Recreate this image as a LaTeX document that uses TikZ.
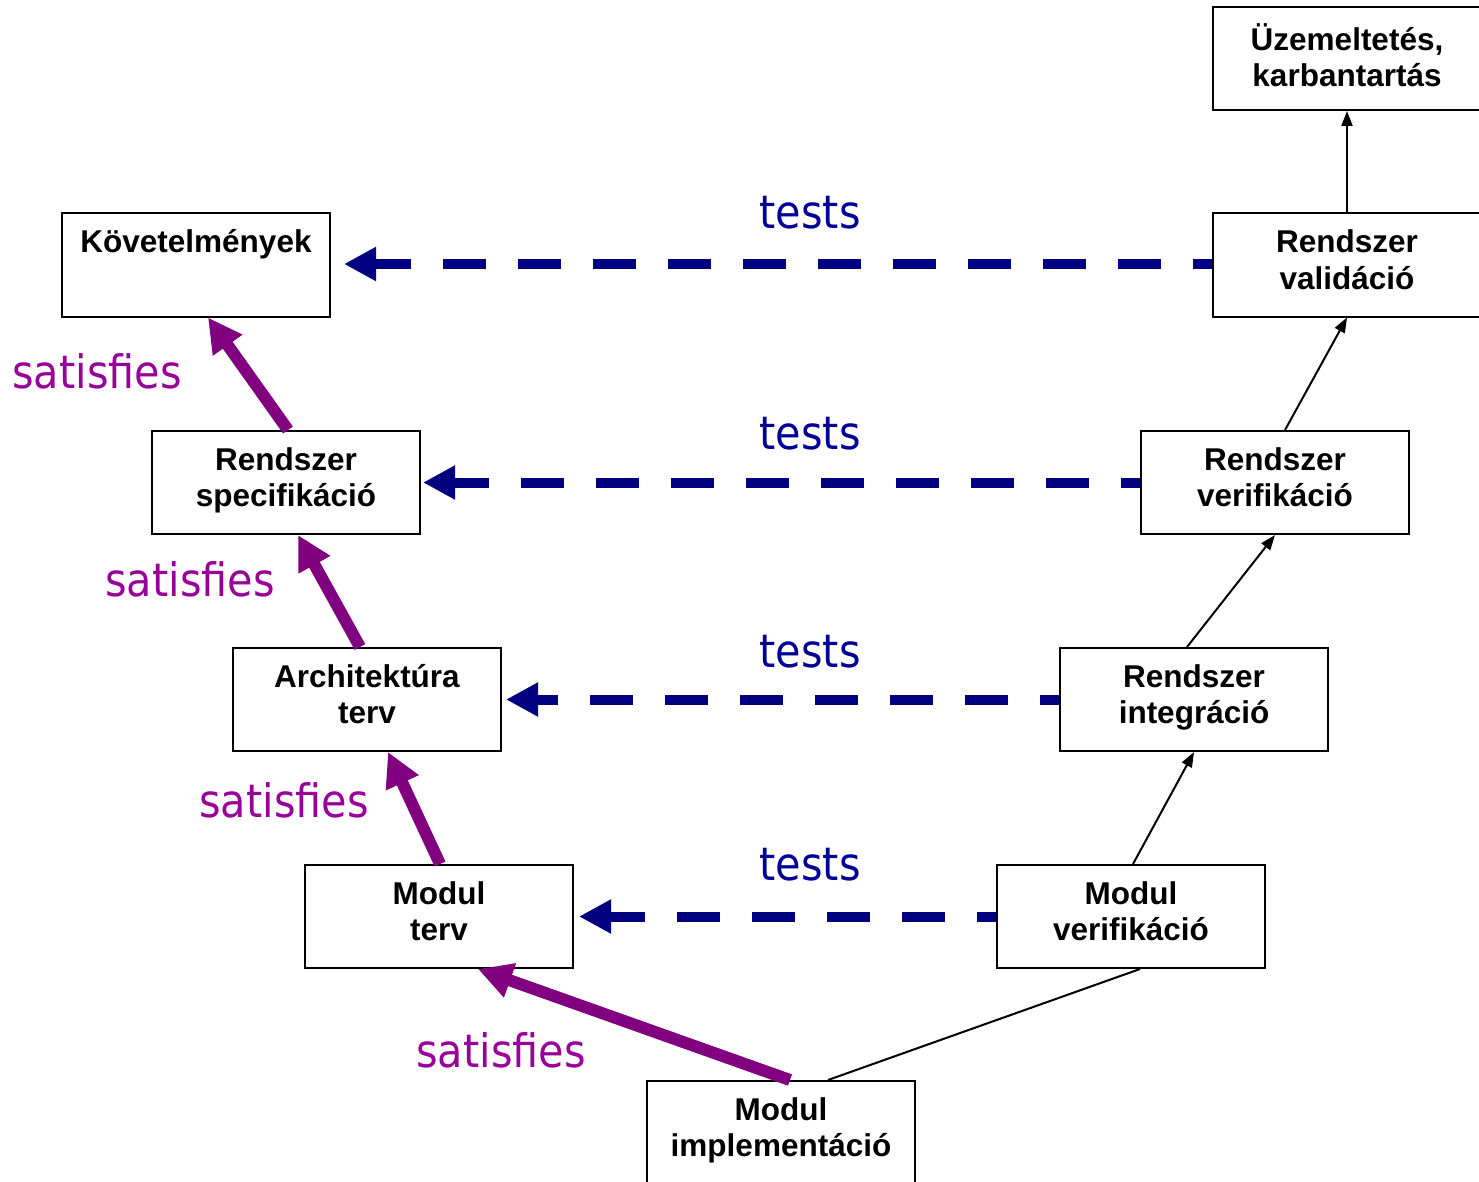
\documentclass[tikz,border=0pt]{standalone}
\usepackage{fontspec}
\setmainfont{Liberation Sans}
\newfontfamily\labelfont{DejaVu Sans Condensed}
\usetikzlibrary{arrows.meta}
\definecolor{testblue}{RGB}{0,0,128}
\definecolor{testtext}{RGB}{0,0,153}
\definecolor{satpurple}{RGB}{128,0,128}
\definecolor{sattext}{RGB}{153,0,153}
\begin{document}
\begin{tikzpicture}[x=1pt,y=-1pt,
  stage/.style={draw, line width=2pt, minimum width=268pt, minimum height=103pt,
    inner sep=0pt, align=center, text height=59pt, text depth=11pt,
    font=\fontsize{31.5}{36}\selectfont\bfseries},
  flow/.style={line width=2pt, -{Triangle[length=15pt,width=11pt]}},
  plainflow/.style={line width=2pt},
  sat/.style={draw=satpurple, line width=12pt, -{Triangle[length=34pt,width=34pt]}},
  tst/.style={draw=testblue, line width=10pt, dash pattern=on 43pt off 32pt,
    dash phase=24pt, -{Triangle[length=32pt,width=32pt]}},
  tstlbl/.style={text=testtext, font=\labelfont\fontsize{46}{50}\selectfont,
    anchor=base, inner sep=0pt},
  satlbl/.style={text=sattext, font=\labelfont\fontsize{46}{50}\selectfont,
    anchor=base, inner sep=0pt}]
\useasboundingbox (0,0) rectangle (1479,1182);
\clip (0,0) rectangle (1479,1182);

% stages of the V model
\node[stage, text depth=2pt] (uz) at (1347,58.5) {Üzemeltetés,\\karbantartás};
\node[stage] (kov)   at (196,265)    {Követelmények\\\phantom{K}};
\node[stage] (val)   at (1347,265)   {Rendszer\\validáció};
\node[stage] (spec)  at (286,482.5)  {Rendszer\\specifikáció};
\node[stage] (ver)   at (1275,482.5) {Rendszer\\verifikáció};
\node[stage] (arch)  at (367,699.5)  {Architektúra\\terv};
\node[stage] (integ) at (1194,699.5) {Rendszer\\integráció};
\node[stage] (modt)  at (439,916.5)  {Modul\\terv};
\node[stage] (modv)  at (1131,916.5) {Modul\\verifikáció};
\node[stage] (impl)  at (781,1132.5) {Modul\\implementáció};

% right branch: integration and verification
\draw[plainflow] ([xshift=47pt]impl.north) -- ([xshift=9pt]modv.south);
\draw[flow] ([xshift=2pt]modv.north) -- (integ.south);
\draw[flow] ([xshift=-7pt]integ.north) -- (ver.south);
\draw[flow] ([xshift=10pt]ver.north) -- (val.south);
\draw[flow] (val.north) -- (uz.south);

% left branch: satisfies
\draw[sat] ([xshift=9pt]impl.north) -- ([xshift=39pt]modt.south);
\draw[sat] ([xshift=1pt]modt.north) -- ([xshift=21pt]arch.south);
\draw[sat] ([xshift=-7pt]arch.north) -- ([xshift=12pt]spec.south);
\draw[sat] ([xshift=2pt]spec.north) -- ([xshift=12pt]kov.south);

% tests links
\draw[tst] (val.west |- 0,264) -- ([xshift=13pt]kov.east |- 0,264);
\draw[tst] (ver.west) -- ([xshift=2pt]spec.east);
\draw[tst] (integ.west) -- ([xshift=4pt]arch.east);
\draw[tst] (modv.west) -- ([xshift=5pt]modt.east);

% labels
\node[tstlbl] (t1) at (810,229) {tests};
\node[tstlbl] (t2) at (810,449) {tests};
\node[tstlbl] (t3) at (810,667) {tests};
\node[tstlbl] (t4) at (810,880) {tests};
\node[satlbl] (s1) at (97,388)  {satisfies};
\node[satlbl] (s2) at (190,596) {satisfies};
\node[satlbl] (s3) at (284,817) {satisfies};
\node[satlbl] (s4) at (501,1067) {satisfies};
\end{tikzpicture}
\end{document}
